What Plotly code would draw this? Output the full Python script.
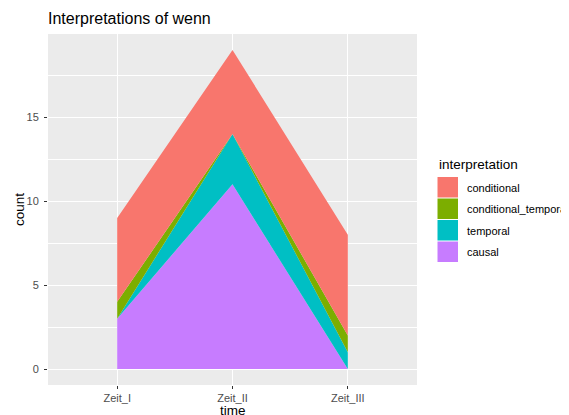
import plotly.graph_objects as go

time = ["Zeit_I", "Zeit_II", "Zeit_III"]
causal = [3, 11, 0]
temporal = [0, 3, 1]
conditional_temporal = [1, 0, 1]
conditional = [5, 5, 6]

# stacking order bottom -> top
series = [
    ("causal", causal, "#C77CFF"),
    ("temporal", temporal, "#00BFC4"),
    ("conditional_temporal", conditional_temporal, "#7CAE00"),
    ("conditional", conditional, "#F8766D"),
]

# the page body has an 8px margin, so the figure sits 8px right/down
OFF = 8
W, H = 569 - OFF, 415 - OFF
L, T = 48 - OFF, 34 - OFF
PW, PH = 369, 351
R, B = W - L - PW, H - T - PH


def px(x):
    return (x - OFF - L) / PW


def py(y):
    return (T + PH - (y - OFF)) / PH


fig = go.Figure()
for name, vals, col in series:
    fig.add_trace(go.Scatter(
        x=time, y=vals, name=name, mode="lines",
        line=dict(width=0, color=col), fillcolor=col,
        stackgroup="one", showlegend=False,
    ))

font = "Liberation Sans, Arial, sans-serif"


def label(text, x, y, size, **kw):
    return dict(text=text, x=px(x), y=py(y), xref="paper", yref="paper",
                showarrow=False, font=dict(size=size, color="black"), **kw)


# ggplot-style legend: keys drawn as squares, labels as text
shapes = []
annotations = [
    label("interpretation", 437, 164, 13.5, xanchor="left", yanchor="middle"),
    label("time", 233, 410, 13.5, xanchor="center", yanchor="middle"),
    label("count", 20, 210, 13.5, xanchor="center", yanchor="middle",
          textangle=-90),
]
for i, (name, vals, col) in enumerate(reversed(series)):
    top = 177 + i * 21.5
    shapes.append(dict(
        type="rect", xref="paper", yref="paper",
        x0=px(437.5), x1=px(458), y0=py(top), y1=py(top + 20.5),
        fillcolor=col, line=dict(width=0), layer="above",
    ))
    annotations.append(label(name, 465, top + 10.5, 11,
                             xanchor="left", yanchor="middle"))

fig.update_layout(
    width=W, height=H,
    margin=dict(l=L, r=R, t=T, b=B, autoexpand=False),
    paper_bgcolor="white",
    plot_bgcolor="#EBEBEB",
    font=dict(family=font, color="black"),
    title=dict(text="Interpretations of wenn", x=(48 - OFF) / W, xanchor="left",
               y=1 - (18.5 - OFF) / H, yanchor="middle", automargin=False,
               font=dict(size=16, color="black")),
    showlegend=False,
    shapes=shapes,
    annotations=annotations,
)
fig.update_xaxes(
    range=[-0.6, 2.6], showgrid=True, gridcolor="white", gridwidth=1.1,
    ticks="outside", ticklen=3, tickcolor="#333333", zeroline=False,
    tickfont=dict(size=11, color="#4D4D4D"), automargin=False,
)
fig.update_yaxes(
    range=[-0.95, 19.95], tickvals=[0, 5, 10, 15], showgrid=True,
    gridcolor="white", gridwidth=1.1, zeroline=False,
    ticks="outside", ticklen=3, tickcolor="#333333", ticklabelstandoff=3,
    tickfont=dict(size=11, color="#4D4D4D"), automargin=False,
    minor=dict(tickvals=[2.5, 7.5, 12.5, 17.5], showgrid=True,
               gridcolor="white", gridwidth=0.5, ticks=""),
)

fig.write_html("out.html")
